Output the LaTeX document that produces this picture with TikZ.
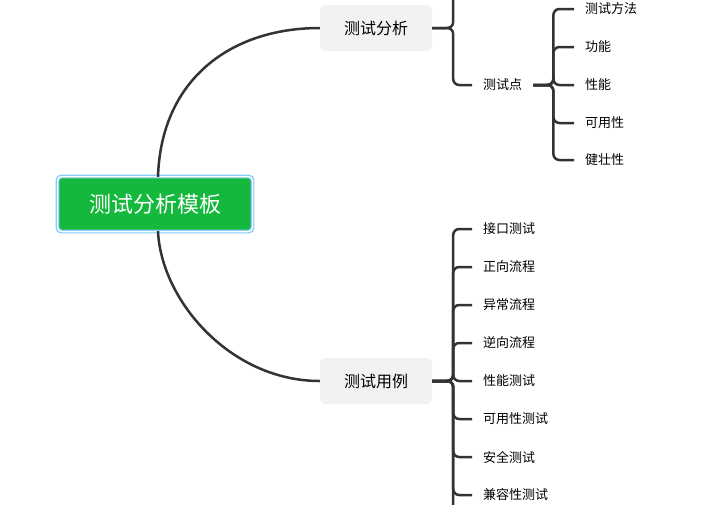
\documentclass[tikz,border=0pt]{standalone}
\usepackage{fontspec}
\setmainfont{Noto Sans CJK SC}
\definecolor{rootgreen}{HTML}{14B83C}
\definecolor{rootring}{HTML}{7CC8F5}
\definecolor{topicgray}{HTML}{F2F2F2}
\definecolor{linegray}{HTML}{333333}
\tikzset{
  rootbox/.style={rectangle, rounded corners=4pt, fill=rootgreen, text=white, draw=rootring, double=white, double distance=1.5pt, line width=1.2pt, minimum width=195pt, minimum height=55pt, font=\fontsize{22}{26}\selectfont},
  topicbox/.style={rectangle, rounded corners=6pt, fill=topicgray, minimum width=112pt, minimum height=46pt, font=\fontsize{16}{19}\selectfont},
  leafbox/.style={anchor=west, inner xsep=11pt, inner ysep=2pt, font=\fontsize{13}{15}\selectfont},
  link/.style={draw=linegray, line width=2.5pt, rounded corners=6pt},
}
\begin{document}
\begin{tikzpicture}[x=1pt, y=-1pt]
    \useasboundingbox (0,0) rectangle (704,504);
    % Nodes
    \node[rootbox] at (155, 204) (root) {测试分析模板};
    \node[topicbox] at (376, 28) (fx) {测试分析};
    \node[topicbox] at (376, 381) (yl) {测试用例};

    \coordinate (hidden) at (472, -30);
    \node[leafbox] at (472, 85) (csd) {测试点};
    \node[leafbox] at (574, 9) (ffa) {测试方法};
    \node[leafbox] at (574, 47) (gn) {功能};
    \node[leafbox] at (574, 85) (xn) {性能};
    \node[leafbox] at (574, 123) (ky) {可用性};
    \node[leafbox] at (574, 160) (jz) {健壮性};

    \node[leafbox] at (472, 229) (jk) {接口测试};
    \node[leafbox] at (472, 267) (zx) {正向流程};
    \node[leafbox] at (472, 305) (yc) {异常流程};
    \node[leafbox] at (472, 343) (nx) {逆向流程};
    \node[leafbox] at (472, 381) (xncs) {性能测试};
    \node[leafbox] at (472, 419) (kycs) {可用性测试};
    \node[leafbox] at (472, 457) (aq) {安全测试};
    \node[leafbox] at (472, 495) (jr) {兼容性测试};
    \coordinate (more) at (472, 540);

    % Connectors
    \draw[link] (root.north) ++(3,1) .. controls (161, 80) and (230, 28) .. (fx.west);
    \draw[link] (root.south) ++(3,-1) .. controls (161, 300) and (230, 381) .. (yl.west);

    \foreach \c in {hidden, csd}
      \draw[link] (fx.east) -- ++(21,0) |- (\c);
    \foreach \c in {ffa, gn, xn, ky, jz}
      \draw[link] (csd.east) -- ++(20,0) |- (\c.west);
    \foreach \c in {jk, zx, yc, nx, xncs, kycs, aq, jr, more}
      \draw[link] (yl.east) -- ++(21,0) |- (\c);
\end{tikzpicture}
\end{document}
